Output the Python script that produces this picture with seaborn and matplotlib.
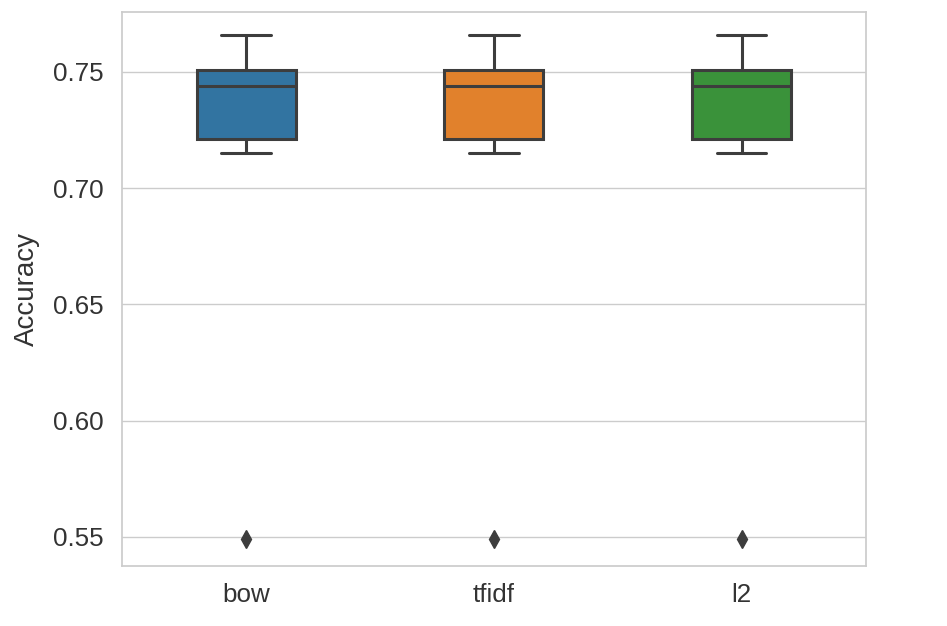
import matplotlib
matplotlib.use("Agg")
import matplotlib.pyplot as plt
import seaborn as sns
import pandas as pd

methods = ["bow", "tfidf", "l2"]
# Accuracy per fold (same distribution for each method)
fold_accuracy = [0.549, 0.715, 0.721, 0.721, 0.742, 0.746, 0.751, 0.751, 0.758, 0.766]

rows = []
for m in methods:
    for v in fold_accuracy:
        rows.append({"method": m, "Accuracy": v})
df = pd.DataFrame(rows)

sns.set_theme(style="whitegrid")
plt.rcParams['font.family'] = ['Liberation Sans', 'DejaVu Sans']

fig = plt.figure(figsize=(9.47, 6.26), dpi=100)
ax = fig.add_axes([0.129, 0.096, 0.785, 0.885])

sns.boxplot(data=df, x="method", y="Accuracy", hue="method", palette="tab10",
            width=0.4, saturation=0.75, linecolor="#3d3d3d", linewidth=2.2,
            flierprops=dict(marker="d", markerfacecolor="#3d3d3d",
                            markeredgecolor="#3d3d3d", markersize=9),
            ax=ax, legend=False)

ax.set_xlabel("")
ax.set_ylabel("Accuracy", fontsize=20, color="#333333", labelpad=9.5)
ax.set_yticks([0.55, 0.60, 0.65, 0.70, 0.75])
ax.tick_params(axis="both", labelsize=18.7, colors="#333333")
ax.tick_params(axis="y", pad=7)
ax.tick_params(axis="x", pad=6)
ax.set_ylim(0.5375, 0.7758)
for s in ax.spines.values():
    s.set_color("#cccccc")

fig.savefig("out.png", dpi=100)
